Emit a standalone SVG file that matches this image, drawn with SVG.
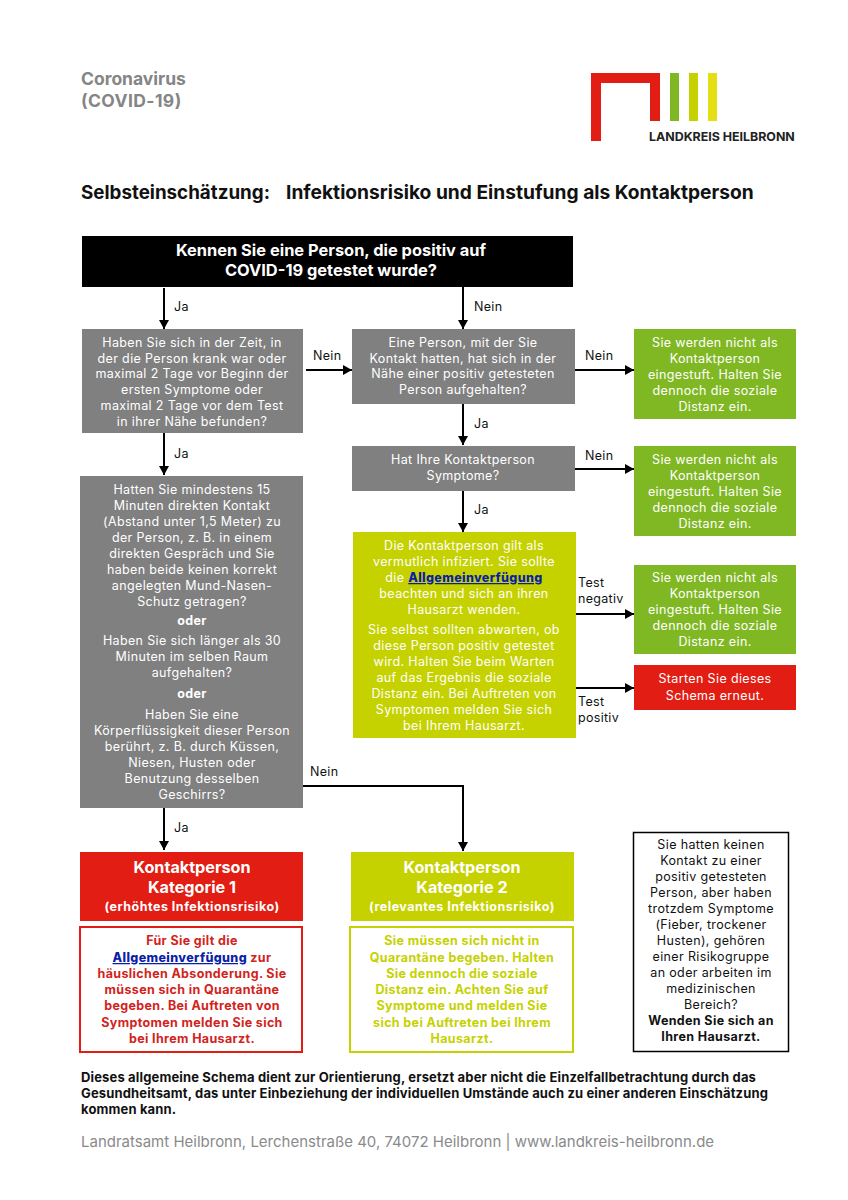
<svg xmlns="http://www.w3.org/2000/svg" width="848" height="1200" viewBox="0 0 848 1200">
<style>
text{font-family:Inter,"Open Sans","Liberation Sans",sans-serif}
.t{font-size:12.5px;letter-spacing:.36px;text-anchor:middle;fill:#fff}
.b{font-size:12.5px;letter-spacing:.36px;text-anchor:middle;font-weight:700}
.r{font-weight:400}
.l{font-size:12.5px;letter-spacing:.3px;fill:#111}
.a{fill:#0b1ea8;font-weight:800;text-decoration:underline}
.h{font-size:16.200px;font-weight:700;fill:#fff;text-anchor:middle}
.s{font-size:12.500px;letter-spacing:.5px;font-weight:700;fill:#fff;text-anchor:middle}
.f{font-size:13px;letter-spacing:.15px;font-weight:700;fill:#111}
.c{fill:none;stroke:#000;stroke-width:2;marker-end:url(#m)}
.gr{fill:#808080}.gn{fill:#80b824}.ye{fill:#c5d200}.re{fill:#e21d14}
</style>
<defs><marker id="m" markerUnits="userSpaceOnUse" markerWidth="10" markerHeight="10" refX="9" refY="5" orient="auto"><path d="M0 0L9 5L0 10Z" fill="#000"/></marker></defs>
<rect width="848" height="1200" fill="#fff"/>
<g id="header">
<text x="81" y="85" font-size="17.500" font-weight="700" fill="#858585">Coronavirus</text>
<text x="81" y="107" font-size="17.500" letter-spacing=".4" font-weight="700" fill="#858585">(COVID-19)</text>
<path d="M591 141V73H660V121H650V83H601V141Z" fill="#e21d14"/>
<rect x="670" y="73" width="9" height="48" fill="#80b824"/>
<rect x="689" y="73" width="9" height="48" fill="#c5d200"/>
<rect x="708" y="73" width="9" height="48" fill="#e3df12"/>
<text x="649" y="141" font-size="12.400" font-weight="700" fill="#222">LANDKREIS HEILBRONN</text>
<text x="81" y="199" font-size="18.800" font-weight="700" fill="#111">Selbsteinschätzung:</text>
<text x="286" y="199" font-size="19.200" font-weight="700" fill="#111">Infektionsrisiko und Einstufung als Kontaktperson</text>
</g>
<g id="connectors">
<path class="c" d="M164 288V329"/>
<path class="c" d="M463 287V329"/>
<path class="c" d="M164 433V475"/>
<path class="c" d="M306 370H352"/>
<path class="c" d="M575 370H634"/>
<path class="c" d="M463 404V445"/>
<path class="c" d="M575 469H634"/>
<path class="c" d="M463 491V532"/>
<path class="c" d="M576 614H634"/>
<path class="c" d="M576 688H634"/>
<path class="c" d="M164 808V850"/>
<path class="c" d="M303 786H463V851"/>
<text class="l" x="174" y="311">Ja</text>
<text class="l" x="474" y="311">Nein</text>
<text class="l" x="313" y="360">Nein</text>
<text class="l" x="174" y="458">Ja</text>
<text class="l" x="585" y="360">Nein</text>
<text class="l" x="474" y="428">Ja</text>
<text class="l" x="585" y="460">Nein</text>
<text class="l" x="474" y="514">Ja</text>
<text class="l" x="578" y="587">Test</text>
<text class="l" x="578" y="603">negativ</text>
<text class="l" x="578" y="706">Test</text>
<text class="l" x="578" y="722">positiv</text>
<text class="l" x="174" y="832">Ja</text>
<text class="l" x="310" y="776">Nein</text>
</g>
<g id="start"><rect x="82" y="236" width="491" height="51" fill="#000"/>
<text x="331" y="256" font-size="16.400" font-weight="700" fill="#fff" text-anchor="middle">Kennen Sie eine Person, die positiv auf</text>
<text x="331" y="276" font-size="16.400" font-weight="700" fill="#fff" text-anchor="middle">COVID-19 getestet wurde?</text></g>
<g id="q1"><rect class="gr" x="82" y="329" width="221" height="104"/>
<text class="t" x="192" y="347">Haben Sie sich in der Zeit, in</text>
<text class="t" x="192" y="363">der die Person krank war oder</text>
<text class="t" x="192" y="378">maximal 2 Tage vor Beginn der</text>
<text class="t" x="192" y="394">ersten Symptome oder</text>
<text class="t" x="192" y="410">maximal 2 Tage vor dem Test</text>
<text class="t" x="192" y="426">in ihrer Nähe befunden?</text></g>
<g id="q2"><rect class="gr" x="352" y="329" width="223" height="75"/>
<text class="t" x="463" y="347">Eine Person, mit der Sie</text>
<text class="t" x="463" y="363">Kontakt hatten, hat sich in der</text>
<text class="t" x="463" y="378">Nähe einer positiv getesteten</text>
<text class="t" x="463" y="394">Person aufgehalten?</text></g>
<g id="q3"><rect class="gr" x="352" y="446" width="223" height="45"/>
<text class="t" x="463" y="464">Hat Ihre Kontaktperson</text>
<text class="t" x="463" y="480">Symptome?</text></g>
<g id="n1"><rect class="gn" x="634" y="329" width="162" height="90"/>
<text class="t" x="715" y="347">Sie werden nicht als</text>
<text class="t" x="715" y="363">Kontaktperson</text>
<text class="t" x="715" y="379">eingestuft. Halten Sie</text>
<text class="t" x="715" y="395">dennoch die soziale</text>
<text class="t" x="715" y="411">Distanz ein.</text></g>
<g id="n2"><rect class="gn" x="634" y="446" width="162" height="90"/>
<text class="t" x="715" y="464">Sie werden nicht als</text>
<text class="t" x="715" y="480">Kontaktperson</text>
<text class="t" x="715" y="496">eingestuft. Halten Sie</text>
<text class="t" x="715" y="512">dennoch die soziale</text>
<text class="t" x="715" y="528">Distanz ein.</text></g>
<g id="n3"><rect class="gn" x="634" y="565" width="162" height="89"/>
<text class="t" x="715" y="582">Sie werden nicht als</text>
<text class="t" x="715" y="598">Kontaktperson</text>
<text class="t" x="715" y="614">eingestuft. Halten Sie</text>
<text class="t" x="715" y="630">dennoch die soziale</text>
<text class="t" x="715" y="646">Distanz ein.</text></g>
<g id="restart"><rect class="re" x="634" y="665" width="162" height="45"/>
<text class="t" x="715" y="683">Starten Sie dieses</text>
<text class="t" x="715" y="700">Schema erneut.</text></g>
<g id="wait"><rect class="ye" x="353" y="532" width="223" height="206"/>
<text class="t" x="464" y="550">Die Kontaktperson gilt als</text>
<text class="t" x="464" y="566">vermutlich infiziert. Sie sollte</text>
<text class="t" x="464" y="582">die <tspan class="a">Allgemeinverfügung</tspan></text>
<text class="t" x="464" y="598">beachten und sich an ihren</text>
<text class="t" x="464" y="614">Hausarzt wenden.</text>
<text class="t" x="464" y="634">Sie selbst sollten abwarten, ob</text>
<text class="t" x="464" y="650">diese Person positiv getestet</text>
<text class="t" x="464" y="666">wird. Halten Sie beim Warten</text>
<text class="t" x="464" y="682">auf das Ergebnis die soziale</text>
<text class="t" x="464" y="698">Distanz ein. Bei Auftreten von</text>
<text class="t" x="464" y="714">Symptomen melden Sie sich</text>
<text class="t" x="464" y="730">bei Ihrem Hausarzt.</text></g>
<g id="q4"><rect class="gr" x="80" y="476" width="223" height="332"/>
<text class="t" x="192" y="494">Hatten Sie mindestens 15</text>
<text class="t" x="192" y="510">Minuten direkten Kontakt</text>
<text class="t" x="192" y="526">(Abstand unter 1,5 Meter) zu</text>
<text class="t" x="192" y="542">der Person, z. B. in einem</text>
<text class="t" x="192" y="558">direkten Gespräch und Sie</text>
<text class="t" x="192" y="574">haben beide keinen korrekt</text>
<text class="t" x="192" y="590">angelegten Mund-Nasen-</text>
<text class="t" x="192" y="606">Schutz getragen?</text>
<text class="t" x="192" y="625" font-weight="700">oder</text>
<text class="t" x="192" y="645">Haben Sie sich länger als 30</text>
<text class="t" x="192" y="661">Minuten im selben Raum</text>
<text class="t" x="192" y="677">aufgehalten?</text>
<text class="t" x="192" y="698" font-weight="700">oder</text>
<text class="t" x="192" y="719">Haben Sie eine</text>
<text class="t" x="192" y="735">Körperflüssigkeit dieser Person</text>
<text class="t" x="192" y="751">berührt, z. B. durch Küssen,</text>
<text class="t" x="192" y="767">Niesen, Husten oder</text>
<text class="t" x="192" y="783">Benutzung desselben</text>
<text class="t" x="192" y="799">Geschirrs?</text></g>
<g id="k1"><rect class="re" x="80" y="852" width="223" height="69"/>
<text class="h" x="192" y="873">Kontaktperson</text>
<text class="h" x="192" y="893">Kategorie 1</text>
<text class="s" x="192" y="911">(erhöhtes Infektionsrisiko)</text></g>
<g id="k2"><rect class="ye" x="351" y="852" width="223" height="69"/>
<text class="h" x="462" y="873">Kontaktperson</text>
<text class="h" x="462" y="893">Kategorie 2</text>
<text class="s" x="462" y="911">(relevantes Infektionsrisiko)</text></g>
<g id="d1"><rect x="80" y="927" width="222" height="125" fill="#fff" stroke="#e21d14" stroke-width="2"/>
<g fill="#d2231c">
<text class="b" x="192" y="945">Für Sie gilt die</text>
<text class="b" x="192" y="962"><tspan class="a">Allgemeinverfügung</tspan> zur</text>
<text class="b" x="192" y="978">häuslichen Absonderung. Sie</text>
<text class="b" x="192" y="994">müssen sich in Quarantäne</text>
<text class="b" x="192" y="1010">begeben. Bei Auftreten von</text>
<text class="b" x="192" y="1027">Symptomen melden Sie sich</text>
<text class="b" x="192" y="1043">bei Ihrem Hausarzt.</text></g></g>
<g id="d2"><rect x="350" y="927" width="223" height="125" fill="#fff" stroke="#c5d200" stroke-width="2"/>
<g fill="#c5d200">
<text class="b" x="462" y="945">Sie müssen sich nicht in</text>
<text class="b" x="462" y="962">Quarantäne begeben. Halten</text>
<text class="b" x="462" y="978">Sie dennoch die soziale</text>
<text class="b" x="462" y="994">Distanz ein. Achten Sie auf</text>
<text class="b" x="462" y="1010">Symptome und melden Sie</text>
<text class="b" x="462" y="1027">sich bei Auftreten bei Ihrem</text>
<text class="b" x="462" y="1043">Hausarzt.</text></g></g>
<g id="info"><rect x="633.500" y="832.500" width="155" height="219" fill="#fff" stroke="#000" stroke-width="1.500"/>
<g fill="#111">
<text class="b r" x="711" y="849">Sie hatten keinen</text>
<text class="b r" x="711" y="865">Kontakt zu einer</text>
<text class="b r" x="711" y="881">positiv getesteten</text>
<text class="b r" x="711" y="897">Person, aber haben</text>
<text class="b r" x="711" y="913">trotzdem Symptome</text>
<text class="b r" x="711" y="929">(Fieber, trockener</text>
<text class="b r" x="711" y="945">Husten), gehören</text>
<text class="b r" x="711" y="961">einer Risikogruppe</text>
<text class="b r" x="711" y="977">an oder arbeiten im</text>
<text class="b r" x="711" y="993">medizinischen</text>
<text class="b r" x="711" y="1009">Bereich?</text>
<text class="b" x="711" y="1025">Wenden Sie sich an</text>
<text class="b" x="711" y="1041">Ihren Hausarzt.</text></g></g>
<g id="footer">
<text class="f" x="81" y="1082">Dieses allgemeine Schema dient zur Orientierung, ersetzt aber nicht die Einzelfallbetrachtung durch das</text>
<text class="f" x="81" y="1098">Gesundheitsamt, das unter Einbeziehung der individuellen Umstände auch zu einer anderen Einschätzung</text>
<text class="f" x="81" y="1114">kommen kann.</text>
<text x="81" y="1147" font-size="15" fill="#8a8a8a">Landratsamt Heilbronn, Lerchenstraße 40, 74072 Heilbronn | www.landkreis-heilbronn.de</text>
</g>
</svg>
